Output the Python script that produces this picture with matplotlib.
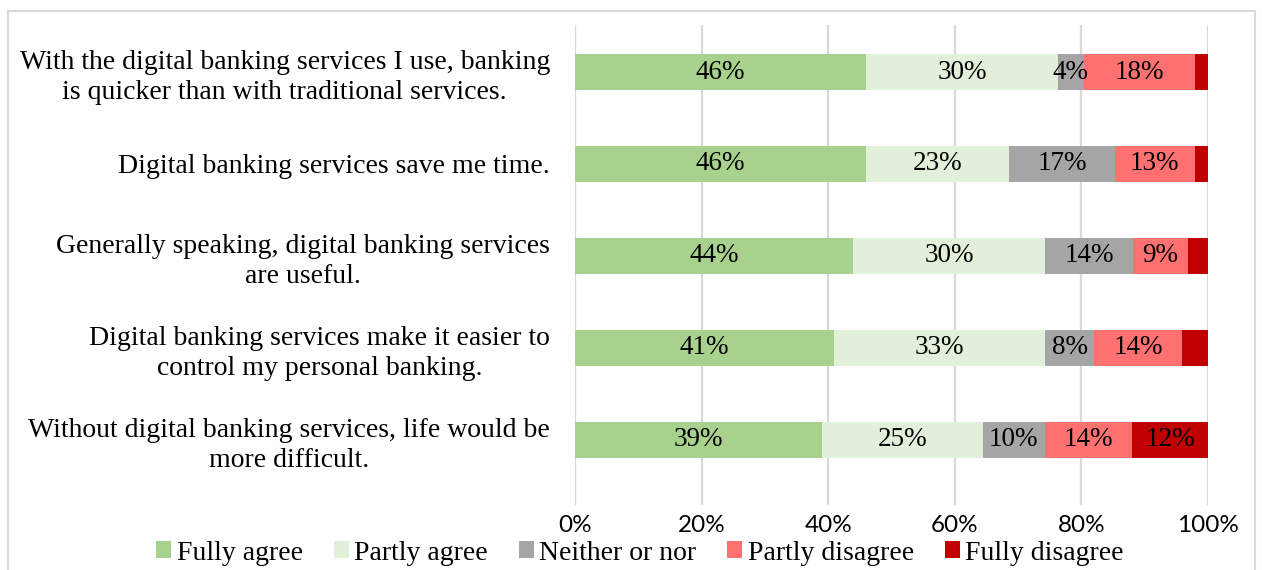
import numpy as np
import matplotlib.pyplot as plt
from matplotlib.patches import Rectangle

# ---------------- DATA ----------------
statements = [
    "With the digital banking services I use, banking\nis quicker than with traditional services.",
    "Digital banking services save me time.",
    "Generally speaking, digital banking services\nare useful.",
    "Digital banking services make it easier to\ncontrol my personal banking.",
    "Without digital banking services, life would be\nmore difficult.",
]
categories = ["Fully agree", "Partly agree", "Neither or nor", "Partly disagree", "Fully disagree"]

fully_agree = [46.0, 46.0, 43.9, 40.9, 39.0]
partly_agree = [30.3, 22.6, 30.4, 33.4, 25.4]
neither = [4.1, 16.7, 13.8, 7.7, 9.8]
partly_disagree = [17.6, 12.6, 8.8, 13.9, 13.8]
fully_disagree = [2.0, 2.1, 3.1, 4.1, 12.0]

xticks = [0, 20, 40, 60, 80, 100]
colors = ["#A9D18E", "#E2EFDA", "#A5A5A5", "#FF7070", "#C00000"]

# ---------------- PLOT ----------------
SERIF = ["Liberation Serif", "DejaVu Serif"]
plt.rcParams["font.family"] = SERIF

fig = plt.figure(figsize=(12.62, 5.70), dpi=100)
ax = fig.add_axes([575 / 1262, 65 / 570, 633 / 1262, 480 / 570])

series = [fully_agree, partly_agree, neither, partly_disagree, fully_disagree]
ypos = np.arange(len(statements))[::-1]
left = np.zeros(len(statements))
handles = []
for name, vals, col in zip(categories, series, colors):
    vals = np.array(vals)
    bars = ax.barh(ypos, vals, left=left, height=0.4, color=col, label=name, zorder=3)
    handles.append(bars)
    for y, l, v in zip(ypos, left, vals):
        if name == "Fully disagree" and v < 5:
            continue
        ax.text(l + v / 2, y, f"{v:.0f}%", ha="center", va="center",
                fontsize=19.5, family=SERIF, color="black", zorder=4)
    left += vals

ax.set_xlim(0, 100)
ax.set_ylim(-0.707, 4.511)
ax.set_xticks(xticks)
ax.set_xticklabels([f"{t}%" for t in xticks], fontfamily="Lato", fontsize=17.5)
ax.set_yticks(ypos)
ax.set_yticklabels(statements, fontsize=20, linespacing=1.25)
for lab in ax.get_yticklabels():
    lab.set_multialignment("center")
ax.tick_params(axis="y", length=0, pad=18)
ax.tick_params(axis="x", length=0, pad=7)
ax.grid(axis="x", color="#D9D9D9", linewidth=1.6, zorder=0)
for s in ax.spines.values():
    s.set_visible(False)

ax.legend(handles=handles, loc="center", bbox_to_anchor=(640 / 1262, 17 / 570),
          bbox_transform=fig.transFigure, ncol=5, frameon=False, fontsize=20,
          handlelength=0.55, handleheight=0.55, handletextpad=0.2, columnspacing=1.1,
          borderpad=0)

# light outer frame
fig.patches.append(Rectangle((8 / 1262, -0.2), 1247 / 1262, 1.2 - 11 / 570,
                             transform=fig.transFigure, fill=False,
                             edgecolor="#D9D9D9", linewidth=1.5))

fig.savefig("out.png", dpi=100)
